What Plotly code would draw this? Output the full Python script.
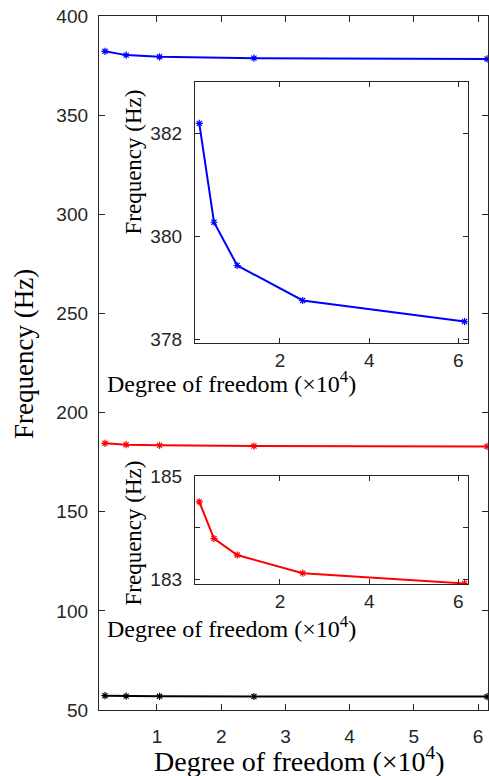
import plotly.graph_objects as go

# Data (degree of freedom in units of 1e4)
dof = [0.19, 0.52, 1.04, 2.51, 6.14]
freq_mode3 = [382.19, 380.27, 379.43, 378.75, 378.34]   # blue
freq_mode2 = [184.50, 183.79, 183.47, 183.12, 182.92]   # red
freq_mode1 = [57.2, 57.0, 56.9, 56.8, 56.75]            # black

main_yticks = [50, 100, 150, 200, 250, 300, 350, 400]
main_xticks = [1, 2, 3, 4, 5, 6]
inset_xticks = [2, 4, 6]
inset1_yticks = [378, 380, 382]
inset2_yticks = [183, 185]
inset2_minor_yticks = [184]

W, H = 489, 776
AX = "#262626"
TICKFONT = dict(family="Liberation Sans, Arial, sans-serif", size=19, color=AX)
SERIF = "Liberation Serif, Times New Roman, serif"

def px_x(a, b):
    return [a / W, b / W]

def px_y(top, bottom):
    return [1 - bottom / H, 1 - top / H]

fig = go.Figure()

def add(x, y, color, xa, ya):
    fig.add_trace(go.Scatter(
        x=x, y=y, mode="lines+markers", xaxis=xa, yaxis=ya,
        line=dict(color=color, width=2),
        marker=dict(symbol="asterisk-open", size=6, color=color,
                    line=dict(color=color, width=1.2)),
        showlegend=False, hoverinfo="skip"))

add(dof, freq_mode3, "#0000ff", "x", "y")
add(dof, freq_mode2, "#ff0000", "x", "y")
add(dof, freq_mode1, "#000000", "x", "y")
add(dof, freq_mode3, "#0000ff", "x2", "y2")
add(dof, freq_mode2, "#ff0000", "x3", "y3")

common = dict(showline=True, linecolor=AX, linewidth=1.3, mirror="ticks",
              ticks="inside", tickcolor=AX, tickwidth=1.3, showgrid=False,
              zeroline=False, tickfont=TICKFONT, automargin=False)

fig.update_layout(
    width=W, height=H, margin=dict(l=0, r=0, t=0, b=0, autoexpand=False),
    paper_bgcolor="white", plot_bgcolor="white",
    xaxis=dict(domain=px_x(99, 488), range=[0.097, 6.155], anchor="y",
               tickvals=main_xticks, ticklen=6, ticklabelstandoff=9, **common),
    yaxis=dict(domain=px_y(16, 710), range=[50, 400], anchor="x",
               tickvals=main_yticks, ticklen=6, ticklabelstandoff=6, **common),
    xaxis2=dict(domain=px_x(195, 467.7), range=[0.094, 6.21], anchor="y2",
                tickvals=inset_xticks, ticklen=5, ticklabelstandoff=0, **common),
    yaxis2=dict(domain=px_y(81.7, 342.7), range=[377.93, 383.0], anchor="x2",
                tickvals=inset1_yticks, ticklen=5, ticklabelstandoff=8, **common),
    xaxis3=dict(domain=px_x(195, 467.7), range=[0.094, 6.21], anchor="y3",
                tickvals=inset_xticks, ticklen=5, ticklabelstandoff=0, **common),
    yaxis3=dict(domain=px_y(476, 584), range=[182.91, 185.0], anchor="x3",
                tickvals=inset2_yticks, ticklen=5, ticklabelstandoff=8,
                minor=dict(tickvals=inset2_minor_yticks, ticks="inside", ticklen=5,
                           tickcolor=AX, tickwidth=1.3, showgrid=False),
                **common),
)

def ann(text, xc, yc, size, angle=0):
    fig.add_annotation(text=text, x=xc / W, y=1 - yc / H, xref="paper", yref="paper",
                       showarrow=False, textangle=angle, xanchor="center", yanchor="middle",
                       borderpad=0,
                       font=dict(family=SERIF, size=size, color="#000000"))

xlabel = "Degree of freedom (×10<sup>4</sup>)"
ylabel = "Frequency (Hz)"
ann(ylabel, 24, 354, 27, -90)
ann(xlabel, 299, 759, 28)
ann(ylabel, 133, 162.5, 23, -90)
ann(xlabel, 231, 382, 24)
ann(ylabel, 133, 533.5, 23, -90)
ann(xlabel, 231, 627, 24)

fig.write_html(
    "out.html",
    config={"displayModeBar": False},
    post_script="document.documentElement.style.margin='0';document.body.style.margin='0';"
                "document.body.style.padding='0';document.body.style.overflow='hidden';",
)
